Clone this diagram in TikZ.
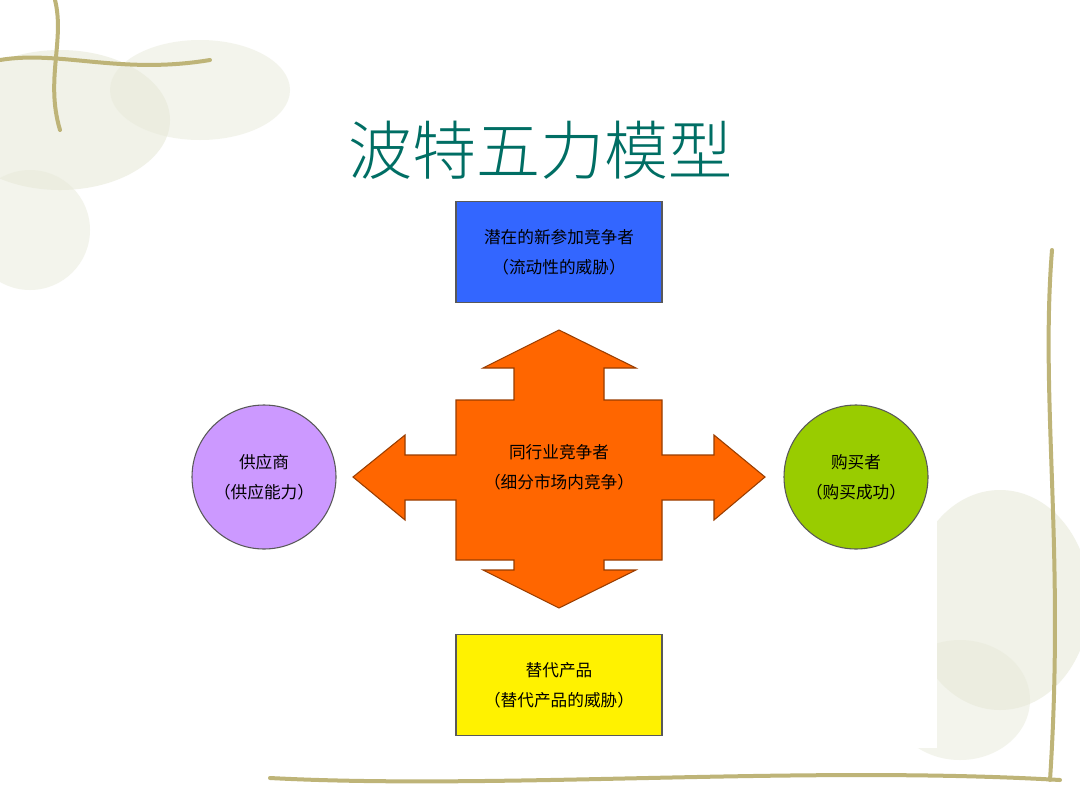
\documentclass[tikz,border=0pt]{standalone}
\usepackage{fontspec}
\newfontfamily\cjk{Noto Sans CJK SC}
\newfontfamily\cjkl{Noto Sans CJK SC Light}
\definecolor{vine}{RGB}{190,180,120}
\definecolor{leaf}{RGB}{232,234,218}
\definecolor{orng}{RGB}{255,102,0}
\definecolor{blu}{RGB}{51,102,255}
\definecolor{purp}{RGB}{204,153,255}
\definecolor{grn}{RGB}{153,204,0}
\definecolor{ttl}{RGB}{0,110,100}
\tikzset{box/.style={draw=gray!70!black,line width=0.8pt,minimum width=206*0.75pt,minimum height=101*0.75pt,inner sep=0pt},
circ/.style={circle,draw=gray!70!black,line width=0.8pt,minimum size=144*0.75pt,inner sep=0pt},
lbl/.style={font=\cjk\fontsize{12.5}{22.5}\selectfont,align=center},
vineline/.style={vine,line width=3pt,line cap=round}}
\begin{document}
\begin{tikzpicture}[x=0.75pt,y=-0.75pt]
\useasboundingbox (0,0) rectangle (1080,810);
\fill[white] (0,0) rectangle (1080,810);
% faint foliage
\fill[leaf,opacity=0.6] (60,120) ellipse (110 and 70);
\fill[leaf,opacity=0.5] (200,90) ellipse (90 and 50);
\fill[leaf,opacity=0.5] (30,230) ellipse (60 and 60);
\fill[leaf,opacity=0.6] (1000,600) ellipse (90 and 110);
\fill[leaf,opacity=0.5] (960,700) ellipse (70 and 60);
% vines
\draw[vineline] (55,0) .. controls (65,40) and (45,80) .. (60,130);
\draw[vineline] (0,60) .. controls (60,50) and (120,75) .. (210,60);
\draw[vineline] (1052,250) .. controls (1040,400) and (1065,550) .. (1050,780);
\draw[vineline] (270,778) .. controls (500,790) and (800,765) .. (1060,780);
% white panel
\fill[white] (180,188) rectangle (937,748);
% title
\node[text=ttl,font=\cjkl\fontsize{48}{52}\selectfont] (title) at (540,150) {波特五力模型};
% cross
\filldraw[fill=orng,draw=orng!60!black,line width=0.8pt]
(559,330) -- (636,368) -- (604,368) -- (604,400) -- (662,400) -- (662,455) -- (714,455) -- (714,435) -- (765,477) -- (714,520) -- (714,500) -- (662,500) -- (662,560) -- (604,560) -- (604,570) -- (636,570) -- (559,608) -- (483,570) -- (514,570) -- (514,560) -- (456,560) -- (456,500) -- (405,500) -- (405,520) -- (353,477) -- (405,435) -- (405,455) -- (456,455) -- (456,400) -- (514,400) -- (514,368) -- (483,368) -- cycle;
\node[lbl] (center) at (559,467) {同行业竞争者\\（细分市场内竞争）};
\node[box,fill=blu,lbl] (top) at (559,252) {潜在的新参加竞争者\\（流动性的威胁）};
\node[box,fill=yellow,lbl] (bot) at (559,685) {替代产品\\（替代产品的威胁）};
\node[circ,fill=purp,lbl] (left) at (264,477) {供应商\\（供应能力）};
\node[circ,fill=grn,lbl] (right) at (856,477) {购买者\\（购买成功）};
\end{tikzpicture}
\end{document}
